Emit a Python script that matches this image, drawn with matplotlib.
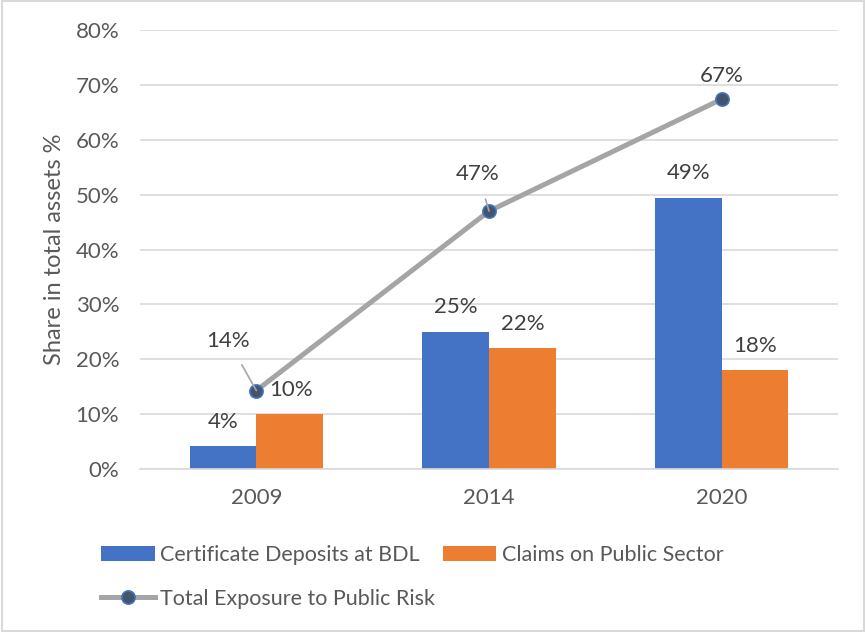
import matplotlib.pyplot as plt
import numpy as np

# données
years = ['2009', '2014', '2020']
cd_bdl = [4.2, 25.0, 49.3]
claims_public = [10.0, 22.0, 18.0]
total_exposure = [14.3, 47.0, 67.4]

blue = '#4472C4'
orange = '#ED7D31'
gray_line = '#A5A5A5'
txt = '#595959'
lbl = '#404040'

plt.rcParams['font.family'] = ['Lato', 'DejaVu Sans']

fig = plt.figure(figsize=(8.66, 6.32), dpi=100)
ax = fig.add_axes([0.1617, 0.2579, 0.806, 0.6946])

x = np.arange(len(years))
w = 0.287

b1 = ax.bar(x - w / 2, cd_bdl, w, color=blue, label='Certificate Deposits at BDL', zorder=2)
b2 = ax.bar(x + w / 2, claims_public, w, color=orange, label='Claims on Public Sector', zorder=2)
ln, = ax.plot(x, total_exposure, color=gray_line, lw=3.6, marker='o', ms=9.5,
              mfc='#44546A', mec=blue, mew=1.2, label='Total Exposure to Public Risk', zorder=3)

fs = 16

# étiquettes des barres
for i in range(len(years)):
    if i == 0:
        ax.text(x[i] - w / 2, cd_bdl[i] + 4.4, f'{cd_bdl[i]:.0f}%', ha='center', va='center',
                fontsize=fs, color=lbl)
        ax.text(x[i] + 0.056, claims_public[i] + 4.4, f'{claims_public[i]:.0f}%', ha='left', va='center',
                fontsize=fs, color=lbl)
    else:
        ax.text(x[i] - w / 2, cd_bdl[i] + 4.6, f'{cd_bdl[i]:.0f}%', ha='center', va='center',
                fontsize=fs, color=lbl)
        ax.text(x[i] + w / 2, claims_public[i] + 4.5, f'{claims_public[i]:.0f}%', ha='center', va='center',
                fontsize=fs, color=lbl)

# étiquettes de la courbe (avec trait de rappel pour 2009 et 2014)
line_offsets = [(-0.12, 9.0), (-0.047, 6.7), (0.0, 4.3)]
for i, (dx, dy) in enumerate(line_offsets):
    ax.annotate(f'{total_exposure[i]:.0f}%', xy=(x[i], total_exposure[i]),
                xytext=(x[i] + dx, total_exposure[i] + dy), ha='center', va='center',
                fontsize=fs, color=lbl,
                arrowprops=None if i == 2 else dict(arrowstyle='-', color='#A5A5A5', lw=1.2,
                                                    shrinkA=9, shrinkB=0))

ax.set_xlim(-0.5, 2.5)
ax.set_ylim(0, 80)
ax.set_yticks(np.arange(0, 81, 10))
ax.set_yticklabels([f'{v}%' for v in range(0, 81, 10)])
ax.set_xticks(x)
ax.set_xticklabels(years)
ax.tick_params(length=0, labelsize=fs, labelcolor=txt)
ax.tick_params(axis='y', pad=15)
ax.tick_params(axis='x', pad=14)
ax.grid(axis='y', color='#D9D9D9', lw=1.2, zorder=0)
ax.set_axisbelow(True)
for s in ['top', 'right', 'left']:
    ax.spines[s].set_visible(False)
ax.spines['bottom'].set_color('#D9D9D9')
ax.spines['bottom'].set_linewidth(1.2)

ax.set_ylabel('Share in total assets %', fontsize=17, color=txt)
ax.yaxis.set_label_coords(-0.108, 0.5)

fig.legend([b1, ln, b2], [b1.get_label(), ln.get_label(), b2.get_label()],
           ncol=2, loc='upper left', bbox_to_anchor=(0.094, 0.168), frameon=False,
           fontsize=15.5, labelcolor=txt, handlelength=2.5, handletextpad=0.25,
           columnspacing=0.35, labelspacing=1.1)

# cadre extérieur
fig.patches.append(plt.Rectangle((0.002, 0.002), 0.996, 0.996, transform=fig.transFigure,
                                 fill=False, edgecolor='#D9D9D9', lw=1.5))

fig.savefig('out.png', dpi=100)
